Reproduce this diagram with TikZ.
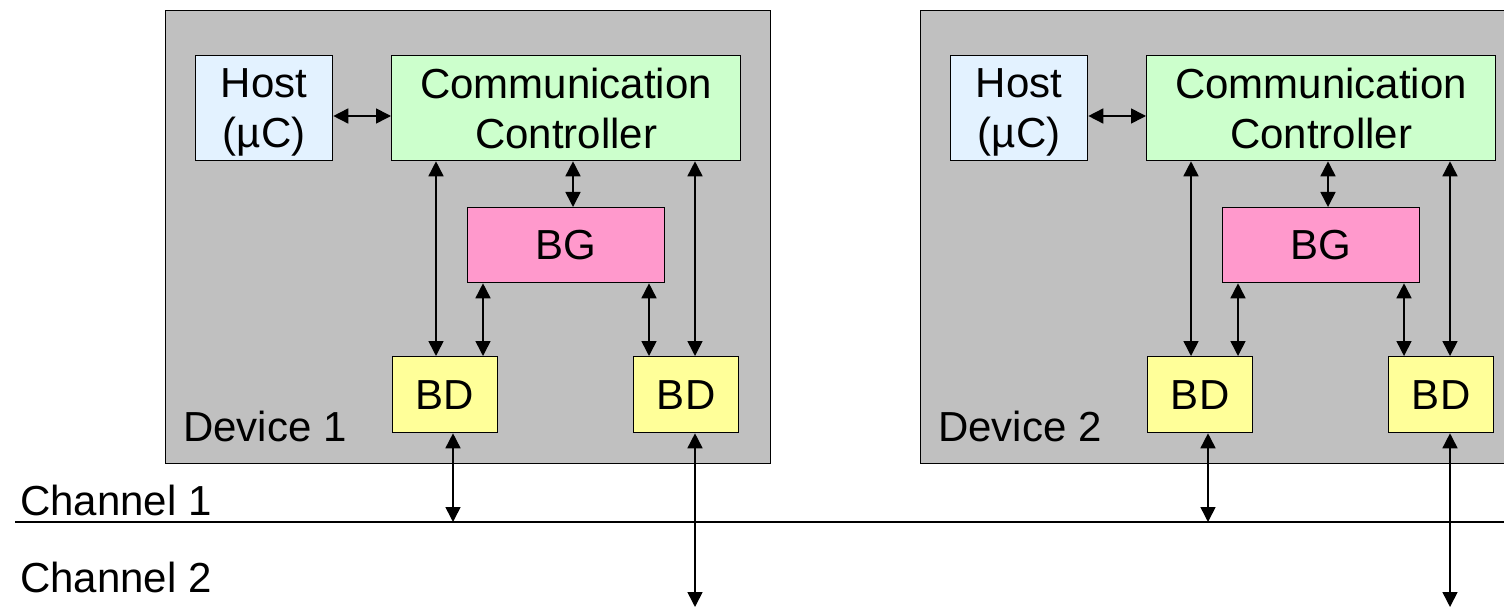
\documentclass[tikz,border=0pt]{standalone}
\usepackage{fontspec}
\setmainfont{Liberation Sans}
\usetikzlibrary{arrows.meta,calc}
\definecolor{devgray}{HTML}{C0C0C0}
\definecolor{hostblue}{HTML}{E3F2FF}
\definecolor{ccgreen}{HTML}{CCFFCC}
\definecolor{bgpink}{HTML}{FF99CC}
\definecolor{bdyellow}{HTML}{FFFF99}
\tikzset{
  box/.style={draw=black,line width=1.3pt,anchor=north west,inner sep=0pt,align=center,
    font=\fontsize{42}{50}\selectfont},
  lbl/.style={anchor=base west,inner sep=0pt,font=\fontsize{42}{50}\selectfont},
  arr/.style={line width=1.6pt,>={Triangle[width=15pt,length=15pt]},<->},
  chline/.style={line width=1.6pt}
}
\newcommand\devicediag[3]{%
\begin{scope}[xshift=#2]
\node[box,fill=devgray,minimum width=605pt,minimum height=453pt] (dev#1) at (165,10) {};
\node[lbl] (devlbl#1) at (183,441) {#3};
\node[box,fill=hostblue,minimum width=137pt,minimum height=105pt] (host#1) at (195,55) {Host\\\raisebox{0pt}[\height][0pt]{(µC)}};
\node[box,fill=ccgreen,minimum width=349pt,minimum height=105pt] (cc#1) at (391,55) {Communication\\Controller};
\node[box,fill=bgpink,minimum width=197pt,minimum height=75pt] (bg#1) at (467,207) {BG};
\node[box,fill=bdyellow,minimum width=105pt,minimum height=76pt] (bdl#1) at (392,356) {BD};
\node[box,fill=bdyellow,minimum width=105pt,minimum height=76pt] (bdr#1) at (633,356) {BD};
\coordinate (c1#1) at (453,522);
\coordinate (c2#1) at (695,607);
\draw[arr] ($(host#1.north east)+(0,61)$) -- ($(cc#1.north west)+(0,61)$);
\draw[arr] ($(cc#1.south west)+(45,0)$) -- ($(bdl#1.north west)+(44,0)$);
\draw[arr] ($(cc#1.south west)+(182,0)$) -- ($(bg#1.north west)+(106,0)$);
\draw[arr] ($(bg#1.south west)+(16,0)$) -- ($(bdl#1.north west)+(91,0)$);
\draw[arr] ($(bg#1.south west)+(182,0)$) -- ($(bdr#1.north west)+(16,0)$);
\draw[arr] ($(cc#1.south west)+(304,0)$) -- ($(bdr#1.north west)+(62,0)$);
\draw[arr] ($(bdl#1.south west)+(61,0)$) -- (c1#1);
\draw[arr] ($(bdr#1.south west)+(62,0)$) -- (c2#1);
\end{scope}}
\begin{document}
\begin{tikzpicture}[x=1pt,y=-1pt]
\useasboundingbox (0,0) rectangle (1504,612);
\clip (0,0) rectangle (1504,612);
\fill[white] (0,0) rectangle (1504,612);
\coordinate (l1a) at (15,522);
\coordinate (l1b) at (1504,522);
\draw[chline] (l1a) -- (l1b);
\node[lbl] (ch1) at (20,515) {Channel 1};
\node[lbl] (ch2) at (20,592) {Channel 2};
\devicediag{a}{0pt}{Device 1}
\devicediag{b}{755pt}{Device 2}
\end{tikzpicture}
\end{document}
